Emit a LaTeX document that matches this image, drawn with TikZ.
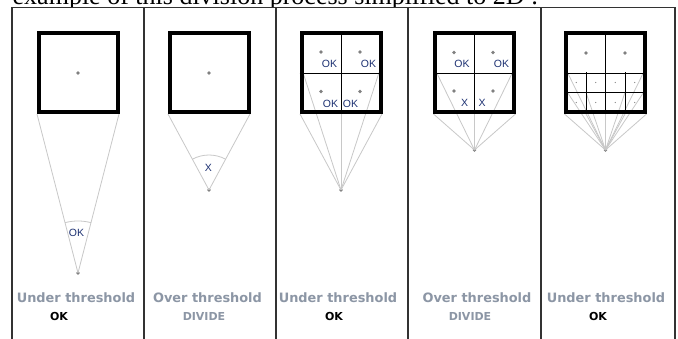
\documentclass[tikz,border=0pt]{standalone}
\usepackage{fontspec}
\setmainfont{Liberation Serif}
\newfontfamily\lblfont{DejaVu Sans}
\newfontfamily\smallfont{Liberation Sans}
\definecolor{fangray}{RGB}{200,200,200}
\definecolor{dotgray}{RGB}{128,128,128}
\definecolor{lblgray}{RGB}{140,150,165}
\definecolor{lblblue}{RGB}{30,50,115}
\begin{document}
\begin{tikzpicture}[x=1pt,y=1pt]
\tikzset{
 frameline/.style={draw=black!80, line width=1.2},
 bigsq/.style={draw=black, line width=4, minimum size=79, inner sep=0},
 divline/.style={draw=black, line width=0.9},
 fanline/.style={draw=fangray, line width=0.8},
 dotpt/.style={circle, fill=dotgray, inner sep=0, minimum size=3.6},
 tinypt/.style={circle, fill=dotgray, inner sep=0, minimum size=1.3},
 oklbl/.style={font=\smallfont\fontsize{10.5}{12}\selectfont, text=lblblue, inner sep=0},
 headlbl/.style={font=\lblfont\bfseries\fontsize{12.9}{15}\selectfont, text=lblgray, inner sep=0, anchor=base},
 reslbl/.style={font=\lblfont\bfseries\fontsize{11}{13}\selectfont, inner sep=0, anchor=base},
}
\useasboundingbox (0,0) rectangle (678,-339);
\fill[white] (0,0) rectangle (678,-339);
% caption text cut by the picture
\node[font=\fontsize{26}{30}\selectfont, anchor=base west, inner sep=0] (cap) at (12.5,-5) {example of this division process simplified to 2D :};
\fill[white] (0,-7.5) rectangle (678,-339);
% frame
\coordinate (f0t) at (12,-7.5);   \coordinate (f0b) at (12,-339);
\coordinate (f1t) at (144,-7.5);  \coordinate (f1b) at (144,-339);
\coordinate (f2t) at (276,-7.5);  \coordinate (f2b) at (276,-339);
\coordinate (f3t) at (408,-7.5);  \coordinate (f3b) at (408,-339);
\coordinate (f4t) at (541,-7.5);  \coordinate (f4b) at (541,-339);
\coordinate (f5t) at (675,-7.5);  \coordinate (f5b) at (675,-339);
\draw[frameline] (f0b) -- (f0t) -- (f5t) -- (f5b);
\draw[frameline] (f1t) -- (f1b);
\draw[frameline] (f2t) -- (f2b);
\draw[frameline] (f3t) -- (f3b);
\draw[frameline] (f4t) -- (f4b);

% ---------- panel 1 ----------
\node[dotpt] (e1) at (78,-273) {};
\coordinate (a1l) at (37,-114); \coordinate (a1r) at (119,-114);
\draw[fanline] (e1.center) -- (a1l);
\draw[fanline] (e1.center) -- (a1r);
\draw[fanline] (e1.center) ++(75.54:52) arc[start angle=75.54, end angle=104.46, radius=52];
\node[oklbl] (k1) at (76.5,-232.5) {OK};
\node[bigsq] (s1) at (78,-73) {};
\node[dotpt] (d1) at (78,-73) {};
\node[headlbl] (h1) at (76,-303) {Under threshold};
\node[reslbl] (r1) at (59,-321) {OK};

% ---------- panel 2 ----------
\node[dotpt] (e2) at (209,-190) {};
\coordinate (a2l) at (168,-114); \coordinate (a2r) at (250,-114);
\draw[fanline] (e2.center) -- (a2l);
\draw[fanline] (e2.center) -- (a2r);
\draw[fanline] (e2.center) ++(61.65:35) arc[start angle=61.65, end angle=118.35, radius=35];
\node[oklbl] (k2) at (208.5,-167.5) {X};
\node[bigsq] (s2) at (209,-73) {};
\node[dotpt] (d2) at (209,-73) {};
\node[headlbl] (h2) at (207.5,-303) {Over threshold};
\node[reslbl, text=lblgray] (r2) at (204,-321) {DIVIDE};

% ---------- panel 3 ----------
\node[dotpt] (e3) at (341,-190) {};
\coordinate (a3bl) at (300,-114); \coordinate (a3bc) at (341,-114); \coordinate (a3br) at (382,-114);
\coordinate (a3ml) at (303,-72.5); \coordinate (a3mc) at (341,-72.5); \coordinate (a3mr) at (379,-72.5);
\foreach \t in {a3bl,a3bc,a3br,a3ml,a3mc,a3mr} \draw[fanline] (e3.center) -- (\t);
\node[bigsq] (s3) at (341,-73) {};
\draw[divline] (s3.north) -- (s3.south);
\draw[divline] (s3.west) -- (s3.east);
\node[dotpt] (d3a) at (321,-52) {};
\node[dotpt] (d3b) at (360,-52) {};
\node[dotpt] (d3c) at (321,-91.5) {};
\node[dotpt] (d3d) at (360,-91.5) {};
\node[oklbl] (k3a) at (329.5,-64) {OK};
\node[oklbl] (k3b) at (368.5,-64) {OK};
\node[oklbl] (k3c) at (330.5,-103.5) {OK};
\node[oklbl] (k3d) at (350.5,-103.5) {OK};
\node[headlbl] (h3) at (338,-303) {Under threshold};
\node[reslbl] (r3) at (334,-321) {OK};

% ---------- panel 4 ----------
\node[dotpt] (e4) at (474.5,-150) {};
\coordinate (a4bl) at (433.5,-114); \coordinate (a4bc) at (474.5,-114); \coordinate (a4br) at (515.5,-114);
\coordinate (a4ml) at (436.5,-72.5); \coordinate (a4mc) at (474.5,-72.5); \coordinate (a4mr) at (512.5,-72.5);
\foreach \t in {a4bl,a4bc,a4br,a4ml,a4mc,a4mr} \draw[fanline] (e4.center) -- (\t);
\node[bigsq] (s4) at (474.5,-73) {};
\draw[divline] (s4.north) -- (s4.south);
\draw[divline] (s4.west) -- (s4.east);
\node[dotpt] (d4a) at (454,-52.5) {};
\node[dotpt] (d4b) at (493,-52.5) {};
\node[dotpt] (d4c) at (454,-91) {};
\node[dotpt] (d4d) at (493,-91) {};
\node[oklbl] (k4a) at (462,-64) {OK};
\node[oklbl] (k4b) at (501.5,-64) {OK};
\node[oklbl] (k4c) at (464.5,-103) {X};
\node[oklbl] (k4d) at (482,-103) {X};
\node[headlbl] (h4) at (477,-303) {Over threshold};
\node[reslbl, text=lblgray] (r4) at (470,-321) {DIVIDE};

% ---------- panel 5 ----------
\node[dotpt] (e5) at (605.5,-150) {};
\coordinate (a5b1) at (564.5,-114); \coordinate (a5b2) at (586,-114); \coordinate (a5b3) at (605.5,-114);
\coordinate (a5b4) at (625,-114); \coordinate (a5b5) at (646.5,-114);
\coordinate (a5m1) at (567.5,-92.5); \coordinate (a5m2) at (586,-92.5); \coordinate (a5m3) at (605.5,-92.5);
\coordinate (a5m4) at (625,-92.5); \coordinate (a5m5) at (643.5,-92.5);
\coordinate (a5t1) at (567.5,-72.5); \coordinate (a5t3) at (643.5,-72.5);
\foreach \t in {a5b1,a5b2,a5b3,a5b4,a5b5,a5m1,a5m2,a5m4,a5m5,a5t1,a5t3} \draw[fanline] (e5.center) -- (\t);
\node[bigsq] (s5) at (605.5,-73) {};
\draw[divline] (s5.north) -- (s5.south);
\draw[divline] (s5.west) -- (s5.east);
\coordinate (g5l) at (566,-92.5); \coordinate (g5r) at (645,-92.5);
\draw[divline] (g5l) -- (g5r);
\coordinate (v5at) at (586,-72.5); \coordinate (v5ab) at (586,-112.5);
\coordinate (v5bt) at (625,-72.5); \coordinate (v5bb) at (625,-112.5);
\draw[divline] (v5at) -- (v5ab);
\draw[divline] (v5bt) -- (v5bb);
\node[dotpt] (d5a) at (586,-53) {};
\node[dotpt] (d5b) at (625,-53) {};
\foreach \x [count=\i] in {576.25,595.75,615.25,634.75} {
  \node[tinypt] (t5u\i) at (\x,-82.5) {};
  \node[tinypt] (t5l\i) at (\x,-102.5) {};
}
\node[headlbl] (h5) at (606,-303) {Under threshold};
\node[reslbl] (r5) at (598,-321) {OK};
\end{tikzpicture}
\end{document}
